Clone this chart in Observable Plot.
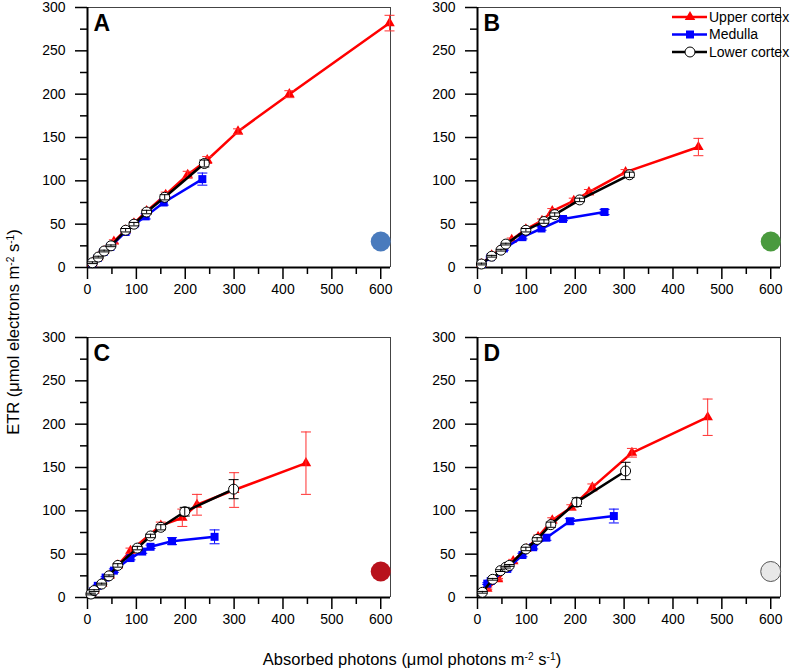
<!DOCTYPE html>
<html><head><meta charset="utf-8">
<script src="https://cdn.jsdelivr.net/npm/d3@7"></script>
<script src="https://cdn.jsdelivr.net/npm/@observablehq/plot@0.6"></script>
<style>
body{margin:0;background:#fff;font-family:Arial,"Liberation Sans",sans-serif}
#wrap{position:relative;width:797px;height:672px;overflow:hidden;background:#fff}
.panel{position:absolute}
#overlay{position:absolute;left:0;top:0;pointer-events:none}
</style></head>
<body><div id="wrap"></div>
<script>
// ---- data: [x (absorbed photons), ETR, error] ----
const A_upper   = [[10,5,1],[22,12,1],[34,19,1],[54,30,2],[78,43,2],[95,51,2],[121,65,2],[160,84,3],[205,107,4],[245,124,4],[308,157,3],[413,200,4],[618,282,9]];
const A_medulla = [[10,5,1],[21,11,1],[33,18,1],[47,24,1],[78,41,2],[96,50,2],[119,59,3],[156,75,3],[235,102,7]];
const A_lower   = [[10,5.5,1],[22,12,1],[34,19,1],[48,25,1],[78,43,2],[95,50,2],[121,64,2],[158,81,3],[239,120,4]];

const B_upper   = [[8,4,1],[29,14,1],[50,22,2],[70,32,2],[99,44,2],[132,54,2],[153,65,3],[197,77,3],[228,87,3],[303,110,3],[452,139,10]];
const B_medulla = [[9,4,1],[27,12,1],[54,22,2],[92,35,2],[131,45,2],[175,56,2],[260,64,3]];
const B_lower   = [[8,4,1],[29,13,1],[48,20,1],[58,27,1],[99,43,2],[136,53,2],[158,61,2],[209,78,2],[311,107,3]];

const C_upper   = [[8,5,1],[14,8,1],[30,16,1],[45,25,2],[62,37,2],[88,54,3],[150,83,4],[194,92,10],[224,107,12],[300,124,20],[447,155,36]];
const C_medulla = [[11,7,1],[21,13.5,1],[37,23,1],[54,31,2],[88,45.5,2],[112,53,2],[129,58.5,2],[173,65,4],[260,70,8]];
const C_lower   = [[7,4,1],[13.5,8,1],[29,15.5,1],[44,25,1],[62,37,2],[102,57,2],[129,71,2],[150,81,3],[199,99,5],[299,125,11]];

const D_upper   = [[20,10,1],[42,21,1],[73,42,2],[100,56,2],[124,70,2],[153,89,3],[192,104,3],[235,127,4],[316,167,5],[471,208,21]];
const D_medulla = [[20,16,1],[27,19,1],[61,33,2],[92,49,2],[114,58,2],[141,69,3],[189,88,3],[279,94,8]];
const D_lower   = [[10,6,1],[31,21,1],[47,31,1],[58,35,1],[65,37,1],[99,56,2],[122,67,2],[150,84,3],[203,110,5],[303,146,10]];

const panelLetters = ["A","B","C","D"];
const indicatorFill = ["#4a7bbd","#4a9a3e","#b8121c","#e8e8e8"];
const indicatorXY = [600, 30];
const xMajor = [0,100,200,300,400,500,600];
const xMinor = [50,150,250,350,450,550];
const yMajor = [0,50,100,150,200,250,300];
const yMinor = [25,75,125,175,225,275];
const xMax = 620, yMax = 300;
const seriesNames = ["Upper cortex","Medulla","Lower cortex"];
const seriesColors = ["#ff0000","#0000ff","#000000"];

// ---- drawing ----
const FONT = "Arial, 'Liberation Sans', sans-serif";
const cap = {draw(ctx, size){ const w = Math.sqrt(size/Math.PI); ctx.moveTo(-w,0); ctx.lineTo(w,0); }};
const rows = a => a.map(([x,y,e]) => ({x,y,e}));

function seriesMarks(data, i){
  const c = seriesColors[i];
  const d = rows(data);
  const marks = [Plot.line(d, {x:"x", y:"y", stroke:c, strokeWidth:2.5})];
  if (i === 0) marks.push(Plot.dot(d, {x:"x", y:"y", symbol:"triangle", r:3.9, fill:c, stroke:"none"}));
  if (i === 1) marks.push(Plot.dot(d, {x:"x", y:"y", symbol:"square", r:4.5, fill:c, stroke:"none"}));
  if (i === 2) marks.push(Plot.dot(d, {x:"x", y:"y", symbol:"circle", r:5, fill:"white", stroke:c, strokeWidth:1}));
  const ec = i === 0 ? "#ff3030" : c;
  marks.push(Plot.ruleX(d, {x:"x", y1:r=>r.y-r.e, y2:r=>r.y+r.e, stroke:ec, strokeWidth:1}));
  marks.push(Plot.dot(d, {x:"x", y:r=>r.y+r.e, symbol:cap, r:5, stroke:ec, strokeWidth:1, fill:"none"}));
  marks.push(Plot.dot(d, {x:"x", y:r=>r.y-r.e, symbol:cap, r:5, stroke:ec, strokeWidth:1, fill:"none"}));
  return marks;
}

function panel(k, upper, medulla, lower){
  const fill = indicatorFill[k];
  return Plot.plot({
    width: 395, height: 310,
    marginLeft: 87, marginRight: 5, marginTop: 7, marginBottom: 43,
    x: {domain: [0, xMax]},
    y: {domain: [0, yMax]},
    style: {fontFamily: FONT, fontSize: "14px", color: "black", background: "transparent", overflow: "visible"},
    marks: [
      Plot.ruleY([yMax], {stroke:"#444", strokeWidth:1}),
      Plot.ruleX([xMax], {stroke:"#444", strokeWidth:1}),
      Plot.axisX(xMajor, {tickSize:12, tickPadding:5, strokeWidth:1.5, fontSize:14, label:null}),
      Plot.axisX(xMinor, {tickSize:7, tickFormat:()=>"", strokeWidth:1.5, label:null}),
      Plot.axisY(yMajor, {tickSize:12, tickPadding:10, strokeWidth:1.5, fontSize:14, label:null}),
      Plot.axisY(yMinor, {tickSize:7, tickFormat:()=>"", strokeWidth:1.5, label:null}),
      Plot.ruleX([0], {stroke:"black", strokeWidth:2}),
      Plot.ruleY([0], {stroke:"black", strokeWidth:2}),
      ...seriesMarks(upper, 0),
      ...seriesMarks(medulla, 1),
      ...seriesMarks(lower, 2),
      Plot.dot([indicatorXY], {x:d=>d[0], y:d=>d[1], r:10, fill, stroke: k===3 ? "#555" : "none", strokeWidth:1}),
      Plot.text([panelLetters[k]], {frameAnchor:"top-left", dx:6, dy:7, text:d=>d, fontSize:23, fontWeight:"bold", textAnchor:"start", lineAnchor:"top", fill:"black"})
    ]
  });
}

const wrap = document.getElementById("wrap");
const pos = [[0,0],[390,0],[0,330],[390,330]];
const sets = [[A_upper,A_medulla,A_lower],[B_upper,B_medulla,B_lower],[C_upper,C_medulla,C_lower],[D_upper,D_medulla,D_lower]];
sets.forEach((s,k)=>{
  const el = panel(k, ...s);
  el.classList.add("panel");
  el.style.left = pos[k][0]+"px";
  el.style.top = pos[k][1]+"px";
  wrap.appendChild(el);
});

// overlay: axis titles and legend
const svg = d3.select(wrap).append("svg").attr("id","overlay").attr("width",797).attr("height",672)
  .style("font-family", FONT);

function supText(g, parts, size){
  const t = g.append("text").attr("font-size", size).attr("text-anchor","middle").attr("fill","black");
  parts.forEach(([s, sup])=>{
    const ts = t.append("tspan").text(s);
    if (sup) ts.attr("font-size", size*0.62).attr("baseline-shift","super");
  });
  return t;
}
supText(svg.append("g").attr("transform","translate(19,332) rotate(-90)"),
  [["ETR (\u03bcmol electrons m"],["-2",1],[" s"],["-1",1],[")"]], 16.5);
supText(svg.append("g").attr("transform","translate(412,665)"),
  [["Absorbed photons (\u03bcmol photons m"],["-2",1],[" s"],["-1",1],[")"]], 16.5);

const lg = svg.append("g").attr("transform","translate(672,17)");
const sym = [d3.symbolTriangle, d3.symbolSquare, d3.symbolCircle];
const symSize = [48, 64, 78];
seriesNames.forEach((name,i)=>{
  const g = lg.append("g").attr("transform",`translate(0,${i*17.5})`);
  g.append("line").attr("x1",0).attr("x2",35).attr("y1",0).attr("y2",0).attr("stroke",seriesColors[i]).attr("stroke-width",2.5);
  g.append("path").attr("d", d3.symbol(sym[i], symSize[i])()).attr("transform","translate(18,0)")
    .attr("fill", i===2 ? "white" : seriesColors[i]).attr("stroke", i===2 ? "black" : "none");
  g.append("text").attr("x",37).attr("y",0).attr("dy","0.35em").attr("font-size",14).attr("fill","black").text(name);
});
</script>
</body></html>
